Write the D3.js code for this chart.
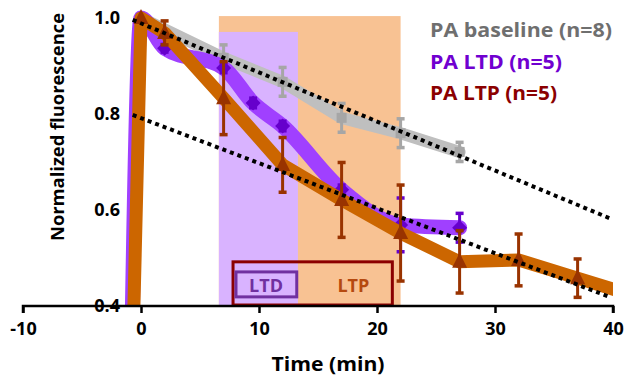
<!DOCTYPE html>
<html>
<head>
<meta charset="utf-8">
<script src="https://cdn.jsdelivr.net/npm/d3@7"></script>
<style>
  body { margin: 0; background: #fff; }
  text { font-family: 'Open Sans', sans-serif; font-weight: bold; }
</style>
</head>
<body>
<svg id="chart"></svg>
<script>
var width = 625, height = 383;

// time points (min) and values
var baselineTime = [0, 7, 12, 17, 22, 27];
var baselineVal  = [1.0, 0.917, 0.867, 0.792, 0.760, 0.721];
var baselineErr  = [0, 0.027, 0.03, 0.03, 0.03, 0.02];

var ltdTime = [-1, 0, 2, 7, 9.5, 12, 17, 22, 27];
var ltdVal  = [0.0, 1.0, 0.937, 0.896, 0.823, 0.775, 0.642, 0.569, 0.563];
var ltdErr  = [0, 0, 0.008, 0.01, 0.01, 0.01, 0.01, 0.056, 0.03];

var ltpTime = [-1, 0, 2, 7, 12, 17, 22, 27, 32, 37, 42];
var ltpVal  = [0.0, 1.0, 0.969, 0.833, 0.694, 0.621, 0.552, 0.492, 0.496, 0.458, 0.42];
var ltpErr  = [0, 0, 0.025, 0.076, 0.057, 0.078, 0.1, 0.065, 0.054, 0.04, 0];

// dotted trend lines [t0, v0, t1, v1]
var trendLines = [
  [-0.7, 0.996, 39.7, 0.583],
  [-0.7, 0.798, 39.7, 0.419]
];

// shaded stimulation periods [tStart, tEnd, top]
var ltpPeriod = [6.6, 22, 1.004];
var ltdPeriod = [6.6, 13.3, 0.971];

var xTicks = [-10, 0, 10, 20, 30, 40];
var yTicks = [0.4, 0.6, 0.8, 1.0];

var legendLabels = ['PA baseline (n=8)', 'PA LTD (n=5)', 'PA LTP (n=5)'];
var legendColors = ['#6f6f6f', '#7000d0', '#8b0000'];

var x = d3.scaleLinear().domain([-10, 40]).range([23, 613]);
var y = d3.scaleLinear().domain([0.4, 1.0]).range([306, 18]);

var svg = d3.select('#chart')
  .attr('width', width)
  .attr('height', height);

svg.append('defs').append('clipPath').attr('id', 'plotClip')
  .append('rect')
  .attr('x', x(-10)).attr('y', 0)
  .attr('width', x(40) - x(-10)).attr('height', y(0.4));

function zip(t, v, e) {
  return t.map((d, i) => ({ t: d, v: v[i], e: e ? e[i] : 0 }));
}
var baseline = zip(baselineTime, baselineVal, baselineErr);
var ltd = zip(ltdTime, ltdVal, ltdErr);
var ltp = zip(ltpTime, ltpVal, ltpErr);

// shaded periods
svg.append('rect')
  .attr('x', x(ltpPeriod[0])).attr('y', y(ltpPeriod[2]))
  .attr('width', x(ltpPeriod[1]) - x(ltpPeriod[0]))
  .attr('height', y(0.4) - y(ltpPeriod[2]))
  .attr('fill', '#f8c293');
svg.append('rect')
  .attr('x', x(ltdPeriod[0])).attr('y', y(ltdPeriod[2]))
  .attr('width', x(ltdPeriod[1]) - x(ltdPeriod[0]))
  .attr('height', y(0.4) - y(ltdPeriod[2]))
  .attr('fill', '#d9b3ff');

// protocol box
var box = svg.append('g');
box.append('rect')
  .attr('x', x(7.8)).attr('y', y(0.492))
  .attr('width', x(21.3) - x(7.8)).attr('height', y(0.4) - y(0.492) - 1)
  .attr('fill', 'none').attr('stroke', '#8b0000').attr('stroke-width', 3);
box.append('rect')
  .attr('x', x(8.05)).attr('y', y(0.471))
  .attr('width', x(13.2) - x(8.05)).attr('height', y(0.419) - y(0.471))
  .attr('fill', 'none').attr('stroke', '#7030a0').attr('stroke-width', 3);
box.append('text')
  .attr('x', x(10.6)).attr('y', y(0.4) - 14)
  .attr('text-anchor', 'middle').attr('font-size', 18)
  .attr('fill', '#7030a0').text('LTD');
box.append('text')
  .attr('x', x(18)).attr('y', y(0.4) - 14)
  .attr('text-anchor', 'middle').attr('font-size', 18)
  .attr('fill', '#b5490f').text('LTP');

var plot = svg.append('g').attr('clip-path', 'url(#plotClip)');

function drawSeries(data, opts) {
  var line = d3.line()
    .x(d => x(d.t))
    .y(d => y(d.v))
    .curve(opts.curve || d3.curveLinear);
  var g = plot.append('g');
  g.append('path')
    .datum(data)
    .attr('d', line)
    .attr('fill', 'none')
    .attr('stroke', opts.line)
    .attr('stroke-width', opts.width)
    .attr('stroke-linecap', 'round')
    .attr('stroke-linejoin', 'round');

  var pts = data.filter(d => d.t >= 0 && d.t <= 40 && d.v >= 0.4 && !(d.t === 0 && opts.skipZero));
  var eb = g.selectAll('.eb').data(pts.filter(d => d.e > 0)).enter().append('g');
  eb.append('line')
    .attr('x1', d => x(d.t)).attr('x2', d => x(d.t))
    .attr('y1', d => y(d.v - d.e)).attr('y2', d => y(d.v + d.e))
    .attr('stroke', opts.marker).attr('stroke-width', 3);
  [-1, 1].forEach(s => {
    eb.append('line')
      .attr('x1', d => x(d.t) - 4).attr('x2', d => x(d.t) + 4)
      .attr('y1', d => y(d.v + s * d.e)).attr('y2', d => y(d.v + s * d.e))
      .attr('stroke', opts.marker).attr('stroke-width', 3.5);
  });

  g.selectAll('.mk').data(pts).enter().append('path')
    .attr('transform', d => 'translate(' + x(d.t) + ',' + y(d.v) + ')')
    .attr('d', opts.shape)
    .attr('fill', opts.marker);
}

drawSeries(baseline, {
  line: '#bfbfbf', marker: '#a6a6a6', width: 12,
  shape: 'M-5,-5H5V5H-5Z', skipZero: true
});
drawSeries(ltd, {
  line: '#a040ff', marker: '#6600cc', width: 15,
  curve: d3.curveMonotoneX,
  shape: 'M0,-7.5L7.5,0L0,7.5L-7.5,0Z', skipZero: true
});
drawSeries(ltp, {
  line: '#cc6600', marker: '#993300', width: 13,
  shape: 'M0,-9L7.5,6H-7.5Z'
});

// dotted trend lines
plot.selectAll('.trend').data(trendLines).enter().append('line')
  .attr('x1', d => x(d[0])).attr('y1', d => y(d[1]))
  .attr('x2', d => x(d[2])).attr('y2', d => y(d[3]))
  .attr('stroke', '#000').attr('stroke-width', 4)
  .attr('stroke-dasharray', '4,4');

// x axis
var xAxis = svg.append('g')
  .attr('transform', 'translate(0,' + y(0.4) + ')')
  .call(d3.axisBottom(x).tickValues(xTicks).tickSize(7).tickPadding(9).tickFormat(d => String(d)));
xAxis.select('.domain').attr('stroke', '#000').attr('stroke-width', 2.5)
  .attr('d', 'M' + x(-10) + ',7V0H' + x(40) + 'V7');
xAxis.selectAll('.tick line').attr('stroke', '#000').attr('stroke-width', 2.5);
xAxis.selectAll('.tick text').attr('font-size', 18).attr('fill', '#000')
  .style('font-family', "'Open Sans', sans-serif").style('font-weight', 'bold');

// y axis labels only
var yAxis = svg.append('g')
  .attr('transform', 'translate(' + 134 + ',0)')
  .call(d3.axisLeft(y).tickValues(yTicks).tickSize(0).tickPadding(14).tickFormat(d3.format('.1f')));
yAxis.select('.domain').remove();
yAxis.selectAll('.tick text').attr('font-size', 18).attr('fill', '#000')
  .style('font-family', "'Open Sans', sans-serif").style('font-weight', 'bold');

// axis titles
svg.append('text')
  .attr('x', 328).attr('y', 371)
  .attr('text-anchor', 'middle').attr('font-size', 20)
  .attr('textLength', 113).attr('lengthAdjust', 'spacingAndGlyphs')
  .text('Time (min)');
svg.append('text')
  .attr('transform', 'translate(64,127) rotate(-90)')
  .attr('text-anchor', 'middle').attr('font-size', 18)
  .attr('textLength', 228).attr('lengthAdjust', 'spacingAndGlyphs')
  .text('Normalized fluorescence');

// legend
var legendWidths = [182, 132, 127];
svg.selectAll('.legend').data(legendLabels).enter().append('text')
  .attr('x', 430).attr('y', (d, i) => 37 + i * 31.5)
  .attr('font-size', 20)
  .attr('fill', (d, i) => legendColors[i])
  .attr('textLength', (d, i) => legendWidths[i])
  .attr('lengthAdjust', 'spacingAndGlyphs')
  .text(d => d);
</script>
</body>
</html>
